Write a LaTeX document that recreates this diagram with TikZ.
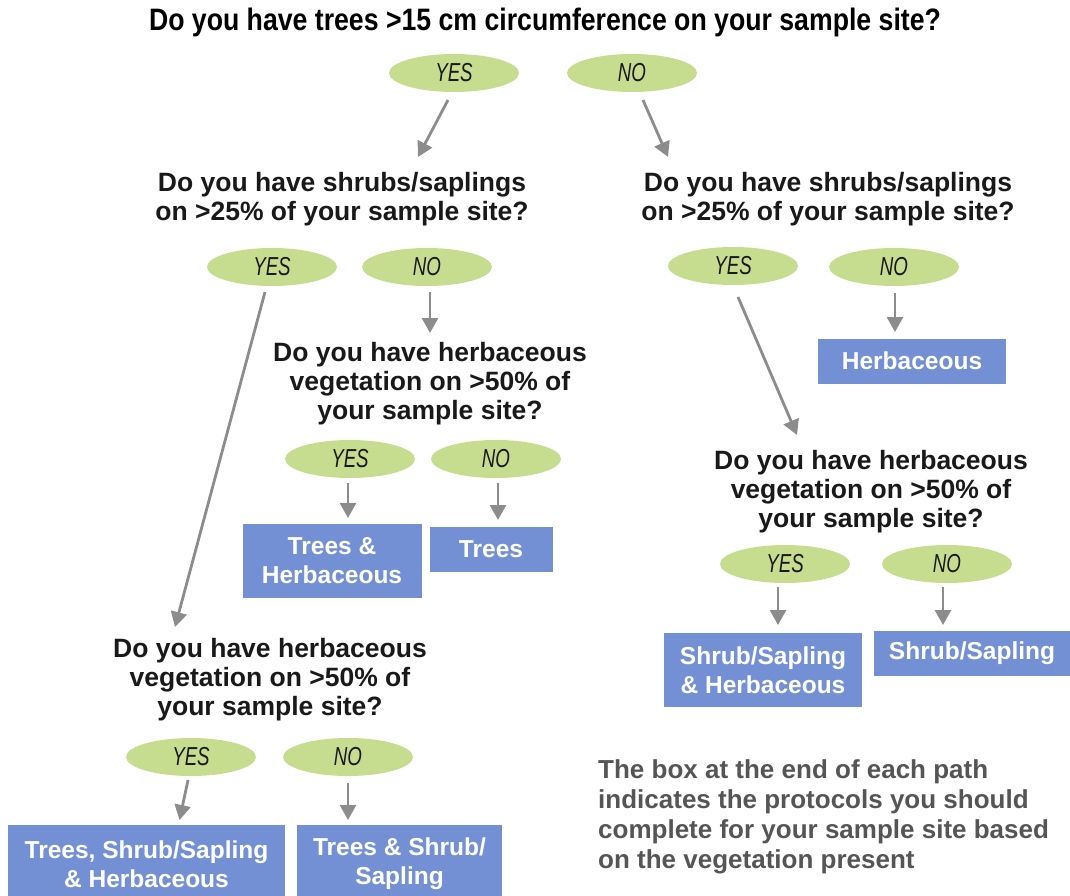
\documentclass[tikz,border=0pt]{standalone}
\usepackage{fontspec}
\setmainfont{Liberation Sans}
\newfontfamily\narrowfont[FakeStretch=0.86]{Liberation Sans}
\newfontfamily\yesnofont[FakeStretch=0.72]{Liberation Sans}
\usepackage{xcolor}
\usepackage{tikz}
\usetikzlibrary{shapes.geometric, arrows.meta, calc}

\definecolor{yesgreen}{RGB}{198,221,143}
\definecolor{boxblue}{RGB}{116,144,212}
\definecolor{arrowgray}{RGB}{140,140,140}
\definecolor{notegray}{RGB}{85,85,85}

\tikzstyle{title} = [font=\narrowfont\bfseries\fontsize{31}{32}\selectfont, inner sep=0pt]
\tikzstyle{question} = [align=center, font=\bfseries\fontsize{26.5}{29}\selectfont, text=black!90, inner sep=0pt]
\tikzstyle{answer} = [ellipse, minimum width=130pt, minimum height=38pt, inner sep=0pt, fill=yesgreen, text=black!90, font=\yesnofont\itshape\fontsize{26}{26}\selectfont]
\tikzstyle{protocol} = [rectangle, fill=boxblue, text=white, align=center, inner sep=0pt, font=\bfseries\fontsize{24.5}{29}\selectfont]
\tikzstyle{arrow} = [line width=2.8pt, draw=arrowgray, -{Triangle[width=16pt,length=15pt]}]

\begin{document}
\begin{tikzpicture}[x=1pt, y=-1pt]
    \useasboundingbox (0,0) rectangle (1070,896);

    % Question 1
    \node (q1) [title] at (545,22) {Do you have trees >15 cm circumference on your sample site?};
    \node (yes1) [answer] at (454,73) {YES};
    \node (no1) [answer] at (632,73) {NO};

    % Question 2, both sides
    \node (q2l) [question] at (342,199) {Do you have shrubs/saplings\\on >25\% of your sample site?};
    \node (q2r) [question] at (828,199) {Do you have shrubs/saplings\\on >25\% of your sample site?};
    \node (yes2l) [answer] at (272,267) {YES};
    \node (no2l) [answer] at (427,267) {NO};
    \node (yes2r) [answer] at (733,266) {YES};
    \node (no2r) [answer] at (894,267) {NO};
    \node (herbR) [protocol, minimum width=188pt, minimum height=45pt] at (912,361) {Herbaceous};

    % Question 3, middle
    \node (q3m) [question] at (430,384) {Do you have herbaceous\\vegetation on >50\% of\\your sample site?};
    \node (yes3m) [answer] at (350,459) {YES};
    \node (no3m) [answer] at (496,459) {NO};
    \node (tHerb) [protocol, minimum width=179pt, minimum height=74pt] at (332,561) {Trees \&\\Herbaceous};
    \node (trees) [protocol, minimum width=123pt, minimum height=45pt] at (491,549) {Trees};

    % Question 3, right
    \node (q3r) [question] at (871,492) {Do you have herbaceous\\vegetation on >50\% of\\your sample site?};
    \node (yes3r) [answer] at (785,564) {YES};
    \node (no3r) [answer] at (947,564) {NO};
    \node (shHerb) [protocol, minimum width=198pt, minimum height=74pt] at (763,670) {Shrub/Sapling\\\& Herbaceous};
    \node (shSap) [protocol, minimum width=196pt, minimum height=45pt] at (972,653) {Shrub/Sapling};

    % Question 3, left
    \node (q3l) [question] at (270,680) {Do you have herbaceous\\vegetation on >50\% of\\your sample site?};
    \node (yes4l) [answer] at (191,757) {YES};
    \node (no4l) [answer] at (348,757) {NO};
    \node (tsh) [protocol, minimum width=277pt, minimum height=78pt] at (146.5,864) {Trees, Shrub/Sapling\\\& Herbaceous};
    \node (tsS) [protocol, minimum width=205pt, minimum height=78pt] at (399.5,864) {Trees \& Shrub/\\Sapling};

    % Note
    \node (note) [anchor=west, align=left, inner sep=0pt, text=notegray, font=\bfseries\fontsize{26}{30}\selectfont] at (598,817) {The box at the end of each path\\indicates the protocols you should\\complete for your sample site based\\on the vegetation present};

    % Draw arrows
    \draw [arrow] ($(yes1)+(-6,27)$) -- ($(q2l)+(76,-42)$);
    \draw [arrow] ($(no1)+(11,27)$) -- ($(q2r)+(-160,-42)$);
    \draw [arrow] ($(yes2l)+(-7,25)$) -- ($(q3l)+(-95,-53)$);
    \draw [arrow] ($(no2l)+(3,25)$) -- ($(q3m)+(0,-51)$);
    \draw [arrow] ($(yes2r)+(5,31)$) -- ($(q3r)+(-74,-57)$);
    \draw [arrow] ($(no2r)+(1,26)$) -- ($(herbR)+(-17,-29)$);
    \draw [arrow] ($(yes3m)+(-2,24)$) -- ($(tHerb)+(16,-43)$);
    \draw [arrow] ($(no3m)+(2,24)$) -- ($(trees)+(7,-29)$);
    \draw [arrow] ($(yes3r)+(-7,23)$) -- ($(shHerb)+(15,-45)$);
    \draw [arrow] ($(no3r)+(-4,23)$) -- ($(shSap)+(-29,-28)$);
    \draw [arrow] ($(yes4l)+(-3,23)$) -- ($(tsh)+(33,-44)$);
    \draw [arrow] ($(no4l)+(0,26)$) -- ($(tsS)+(-51.5,-44)$);
\end{tikzpicture}
\end{document}
